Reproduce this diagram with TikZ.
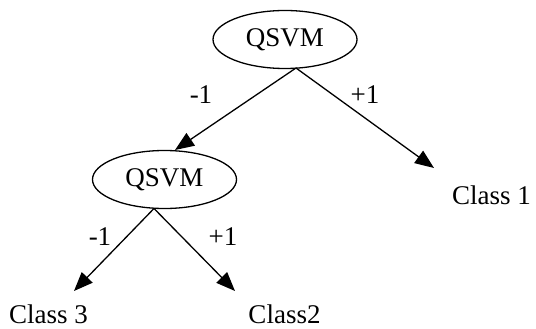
\documentclass[tikz,border=0pt]{standalone}
\usepackage{fontspec}
\setmainfont{Liberation Serif}
\usetikzlibrary{shapes.geometric,arrows.meta}
\begin{document}
\begin{tikzpicture}[x=1pt,y=-1pt,
  every node/.style={font=\fontsize{27}{30}\selectfont},
  oval/.style={draw,ellipse,line width=1.3pt,minimum width=144pt,minimum height=58pt,inner sep=0pt},
  lbl/.style={inner sep=0pt},
  arr/.style={line width=1.3pt,-{Triangle[length=19pt,width=15pt]}}]
\useasboundingbox (0,0) rectangle (536,329);
\node[oval] (q1) at (285,39.5) {QSVM};
\node[oval] (q2) at (164.5,179.5) {QSVM};
\coordinate (t1) at (296,68);
\coordinate (t2) at (154,208.5);
\coordinate (h2) at (175,150);
\coordinate (c1tip) at (434,168);
\coordinate (c3tip) at (74,291);
\coordinate (c2tip) at (235,291);
\node[lbl] (c1) at (491.5,195) {Class 1};
\node[lbl] (c3) at (48.5,314) {Class 3};
\node[lbl] (c2) at (284.5,314) {Class2};
\node[lbl] (m1) at (201,95) {-1};
\node[lbl] (p1) at (365,95) {+1};
\node[lbl] (m2) at (100,237) {-1};
\node[lbl] (p2) at (223,237) {+1};
\draw[arr] (t1) -- (h2);
\draw[arr] (t1) -- (c1tip);
\draw[arr] (t2) -- (c3tip);
\draw[arr] (t2) -- (c2tip);
\end{tikzpicture}
\end{document}
